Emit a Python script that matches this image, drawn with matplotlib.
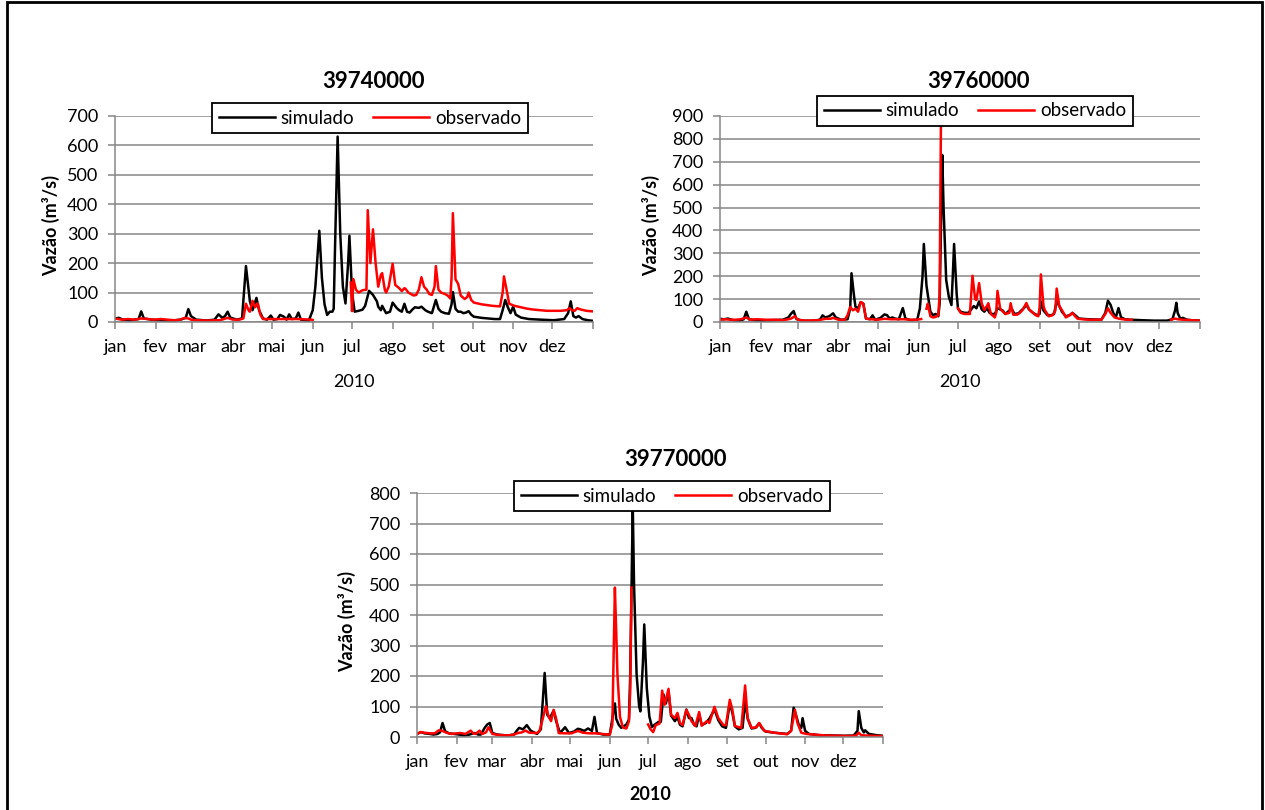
import numpy as np
import matplotlib
matplotlib.use("Agg")
import matplotlib.pyplot as plt
from matplotlib.patches import Rectangle
from matplotlib.ticker import MultipleLocator

plt.rcParams['font.family'] = ['Lato', 'DejaVu Sans']

nan = np.nan
meses = ['jan', 'fev', 'mar', 'abr', 'mai', 'jun', 'jul', 'ago', 'set', 'out', 'nov', 'dez', '']
inicio_mes = [0, 31, 59, 90, 120, 151, 181, 212, 243, 273, 304, 334, 365]

# ---- 39740000 ----
sim1_dia = [0, 3, 6, 12, 18, 20, 22, 28, 35, 45, 50, 54, 56, 58, 62, 70, 76, 79, 82, 84, 86, 88, 93, 97,
            100, 103, 105, 108, 110, 113, 116, 119, 121, 124, 126, 129, 131, 133, 135, 138, 140, 142, 148,
            151, 153, 156, 158, 160, 162, 164, 166, 167, 168, 170, 172, 174, 176, 178, 179, 181, 183, 186,
            189, 191, 194, 197, 200, 201, 203, 204, 207, 210, 212, 215, 217, 219, 221, 223, 225, 227, 229,
            232, 234, 237, 239, 242, 245, 247, 249, 252, 255, 257, 258, 260, 262, 264, 266, 268, 270, 272,
            274, 280, 290, 294, 296, 298, 300, 302, 304, 306, 310, 316, 325, 335, 343, 346, 348, 350, 352,
            354, 357, 361, 365]
sim1_q = [12, 14, 8, 6, 10, 36, 12, 8, 6, 5, 8, 14, 44, 20, 8, 5, 8, 26, 14, 20, 35, 15, 8, 12,
          190, 70, 40, 82, 40, 12, 8, 22, 8, 10, 24, 18, 8, 26, 10, 12, 32, 8, 5,
          40, 120, 310, 150, 60, 24, 35, 35, 45, 250, 630, 300, 120, 63, 200, 293, 100, 35, 38,
          42, 55, 106, 92, 70, 52, 40, 55, 30, 35, 66, 48, 40, 35, 62, 35, 32, 42, 50,
          48, 52, 40, 35, 30, 75, 45, 35, 30, 28, 60, 102, 45, 35, 35, 30, 32, 37, 25,
          18, 14, 10, 10, 40, 75, 50, 30, 52, 25, 15, 10, 8, 6, 10, 30, 70, 20, 15,
          20, 10, 6, 4]
obs1_dia = [0, 5, 10, 15, 20, 25, 30, 35, 40, 45, 50, 53, 56, 58, 62, 70, 80, 86, 90, 95, 98, 100, 102,
            103, 105, 107, 109, 111, 113, 120, 130, 140, 150, 151, 152,
            180, 181, 182, 184, 186, 189, 192, 193, 195, 197, 199, 201, 203, 204, 206, 207, 209, 212, 214,
            217, 219, 221, 222, 224, 226, 228, 230, 232, 234, 236, 238, 240, 242, 244, 245, 247, 249, 252,
            254, 256, 257, 258, 260, 262, 264, 267, 269, 270, 272, 274, 280, 288, 294, 296, 297, 299, 301,
            305, 310, 315, 320, 330, 340, 345, 347, 349, 351, 353, 356, 360, 365]
obs1_q = [12, 8, 10, 8, 12, 10, 8, 10, 8, 6, 8, 14, 12, 8, 6, 5, 6, 14, 8, 8, 12, 62, 40,
          35, 72, 50, 63, 25, 10, 10, 10, 10, 8, 7, nan,
          134, 37, 146, 110, 100, 108, 110, 380, 200, 315, 200, 120, 160, 166, 110, 100, 120, 198, 126,
          115, 105, 115, 112, 100, 95, 90, 92, 110, 152, 120, 110, 95, 92, 120, 190, 110, 100, 95,
          90, 80, 150, 370, 145, 130, 90, 78, 85, 100, 75, 66, 60, 55, 53, 100, 155, 110, 62,
          55, 50, 45, 42, 38, 38, 40, 47, 40, 38, 47, 42, 38, 36]

# ---- 39760000 ----
sim2_dia = [0, 3, 6, 10, 15, 18, 20, 22, 26, 32, 40, 48, 52, 54, 56, 58, 62, 70, 76, 78, 80, 83, 86, 88,
            92, 97, 99, 100, 102, 103, 105, 107, 109, 111, 114, 116, 118, 122, 125, 127, 129, 131, 133,
            136, 139, 141, 145, 150, 152, 154, 155, 157, 158, 160, 162, 164, 166, 167, 169, 170, 172, 174,
            176, 177, 178, 180, 181, 183, 186, 189, 191, 193, 195, 197, 199, 201, 203, 205, 207, 209, 211,
            213, 215, 217, 220, 222, 224, 227, 229, 231, 233, 235, 238, 241, 243, 244, 246, 249, 252, 254,
            256, 258, 260, 263, 266, 268, 270, 273, 280, 290, 293, 295, 297, 299, 301, 303, 305, 308, 312,
            320, 330, 340, 344, 346, 347, 348, 350, 352, 355, 360, 365]
sim2_q = [14, 12, 15, 8, 6, 12, 45, 12, 8, 6, 8, 10, 20, 36, 48, 14, 6, 5, 10, 29, 20, 25, 38, 20,
          10, 12, 60, 213, 110, 67, 60, 87, 80, 15, 12, 29, 10, 18, 33, 30, 15, 20, 15,
          12, 61, 15, 8, 10, 60, 200, 341, 160, 120, 45, 30, 35, 25, 80, 730, 500, 183, 110,
          74, 200, 341, 120, 58, 45, 40, 40, 55, 70, 60, 90, 55, 45, 60, 40, 35, 35, 60,
          55, 50, 35, 50, 55, 35, 38, 50, 60, 75, 55, 40, 30, 35, 90, 50, 30, 30, 35,
          90, 70, 45, 25, 30, 40, 30, 15, 12, 10, 40, 93, 75, 40, 20, 61, 20, 12, 10,
          8, 6, 6, 12, 50, 84, 40, 15, 18, 10, 7, 6]
obs2_dia = [0, 4, 8, 12, 16, 20, 23, 28, 35, 42, 48, 52, 54, 57, 59, 65, 75, 80, 84, 86, 90, 95, 97, 99,
            101, 103, 105, 107, 109, 111, 115, 120, 125, 130, 135, 140, 145, 150, 153, 155,
            157, 158, 160, 162, 164, 166, 167, 168, 169,
            181, 183, 186, 190, 192, 194, 195, 197, 199, 201, 203, 204, 206, 209, 210, 211, 213, 214, 217,
            220, 221, 223, 226, 228, 230, 233, 235, 237, 240, 242, 243, 244, 246, 247, 250, 253, 255, 256,
            258, 260, 263, 266, 268, 270, 272, 280, 290, 293, 295, 297, 300, 303, 306, 310, 313, 314,
            343, 346, 348, 352, 358, 365]
obs2_q = [10, 12, 10, 10, 12, 20, 10, 12, 10, 10, 8, 12, 15, 25, 10, 6, 8, 14, 14, 18, 10, 10, 30, 66,
          51, 58, 45, 87, 80, 15, 12, 10, 14, 12, 12, 12, 10, 10, 13, nan,
          58, 80, 25, 20, 22, 30, 120, 870, nan,
          60, 40, 35, 35, 202, 100, 96, 170, 82, 52, 70, 82, 35, 20, 40, 136, 60, 52, 35,
          40, 82, 32, 32, 40, 52, 83, 55, 45, 30, 25, 60, 208, 70, 52, 25, 30, 50, 146,
          70, 52, 20, 30, 40, 25, 14, 10, 10, 35, 60, 40, 20, 15, 12, 10, 10, nan,
          10, 15, 12, 10, 8, 6]

# ---- 39770000 ----
sim3_dia = [0, 3, 6, 10, 13, 16, 18, 20, 22, 25, 29, 33, 37, 41, 45, 48, 50, 53, 55, 57, 59, 63, 71,
            76, 78, 80, 83, 86, 89, 94, 97, 100, 102, 104, 107, 109, 112, 116, 119, 123, 126, 128, 131,
            134, 137, 139, 141, 146, 151, 153, 154, 155, 156, 158, 160, 162, 164, 166, 167, 169, 170,
            172, 174, 175, 177, 178, 180, 182, 184, 186, 189, 191, 193, 195, 197, 199, 202, 204, 206,
            208, 211, 213, 215, 217, 219, 221, 223, 226, 229, 231, 233, 236, 239, 242, 245, 247, 249,
            252, 255, 257, 259, 262, 265, 268, 270, 273, 280, 290, 293, 295, 297, 299, 301, 302, 304,
            307, 315, 325, 335, 342, 345, 346, 348, 350, 351, 354, 360, 365]
sim3_q = [10, 16, 12, 10, 8, 10, 15, 46, 19, 12, 10, 8, 5, 8, 13, 8, 8, 30, 41, 46, 13, 8, 5,
          8, 20, 30, 25, 39, 21, 10, 25, 210, 73, 62, 86, 52, 13, 32, 13, 18, 27, 25, 20,
          28, 20, 66, 13, 8, 8, 60, 90, 110, 60, 40, 30, 35, 41, 57, 200, 760, 500,
          205, 100, 84, 250, 369, 160, 67, 33, 40, 49, 50, 140, 110, 150, 70, 52, 65, 40,
          35, 90, 62, 62, 40, 35, 75, 40, 45, 60, 75, 90, 55, 35, 30, 110, 80, 35,
          25, 30, 120, 60, 28, 30, 45, 30, 18, 14, 10, 20, 96, 70, 40, 30, 62, 20,
          10, 6, 5, 4, 5, 20, 85, 30, 15, 22, 10, 6, 4]
obs3_dia = [0, 3, 6, 10, 14, 17, 20, 23, 27, 31, 34, 38, 42, 44, 46, 49, 51, 54, 56, 59, 65, 71, 76,
            79, 82, 85, 88, 94, 96, 98, 101, 103, 105, 107, 109, 111, 116, 121, 126, 130, 135, 140, 145,
            149, 151, 153, 155, 156, 157, 159, 161, 162, 164, 165, 166, 167, 168, 169,
            181, 183, 185, 187, 190, 192, 194, 197, 199, 202, 204, 206, 208, 211, 213, 215, 218, 221, 223,
            227, 229, 233, 236, 240, 242, 245, 247, 249, 254, 257, 259, 262, 266, 268, 272, 280, 290, 293,
            296, 298, 301, 305, 320, 339, 344, 346, 348, 355, 365]
obs3_q = [10, 16, 14, 12, 12, 22, 20, 14, 10, 12, 13, 10, 21, 12, 10, 21, 10, 15, 32, 10, 6, 5, 8,
          13, 15, 21, 14, 13, 20, 52, 101, 68, 52, 89, 60, 13, 12, 12, 20, 14, 12, 12, 10,
          8, 8, 41, 490, 350, 205, 66, 35, 30, 28, 39, 52, 150, 490, nan,
          41, 25, 16, 39, 44, 152, 106, 158, 73, 62, 79, 46, 39, 89, 73, 52, 36, 82, 37,
          52, 46, 99, 62, 39, 39, 122, 90, 36, 30, 169, 62, 30, 32, 46, 20, 14, 9, 20,
          89, 46, 14, 10, 5, 3, 5, 14, 6, 4, 3]

W, H = 1265, 810
fig = plt.figure(figsize=(W / 100, H / 100), dpi=100)

# moldura
fig.add_artist(Rectangle((6.5 / W, -0.01), (1262 - 6.5) / W, 1.01 - 1.5 / H,
                         transform=fig.transFigure, fill=False, edgecolor='black', linewidth=2))

grid_cor = '#868686'


def painel(px, sim_d, sim_v, obs_d, obs_v, ymax, titulo, leg, ylab_x, ylab_y, tit_xy, ano_xy, ano_bold):
    l, r, t, b = px
    ax = fig.add_axes([l / W, 1 - b / H, (r - l) / W, (b - t) / H])
    ax.plot(sim_d, sim_v, color='black', lw=1.8, label='simulado')
    ax.plot(obs_d, obs_v, color='#FF0000', lw=1.8, label='observado')
    ax.set_xlim(0, 365)
    ax.set_ylim(0, ymax)
    ax.yaxis.set_major_locator(MultipleLocator(100))
    ax.set_xticks(inicio_mes)
    ax.set_xticklabels(meses)
    ax.grid(axis='y', color=grid_cor, lw=1.1)
    ax.set_axisbelow(True)
    for s in ['top', 'right']:
        ax.spines[s].set_visible(False)
    for s in ['left', 'bottom']:
        ax.spines[s].set_color(grid_cor)
        ax.spines[s].set_linewidth(1.1)
    ax.tick_params(axis='x', length=5, width=1.1, color=grid_cor, pad=7, labelsize=13)
    ax.tick_params(axis='y', length=5, width=1.1, color=grid_cor, pad=7, labelsize=13)
    lg = ax.legend(loc='center', bbox_to_anchor=(leg[0] / W, 1 - leg[1] / H), bbox_transform=fig.transFigure,
                   ncol=2, fontsize=13.5, frameon=True, fancybox=False, handlelength=3.0,
                   columnspacing=1.0, handletextpad=0.3, borderpad=0.35, borderaxespad=0)
    lg.get_frame().set_edgecolor('black')
    lg.get_frame().set_linewidth(1.3)
    lg.get_frame().set_alpha(1)
    fig.text(tit_xy[0] / W, 1 - tit_xy[1] / H, titulo, ha='center', va='center', fontsize=16, fontweight='bold')
    fig.text(ylab_x / W, 1 - ylab_y / H, 'Vazão (m³/s)', ha='center', va='center', rotation=90,
             fontsize=13, fontweight='bold')
    fig.text(ano_xy[0] / W, 1 - ano_xy[1] / H, '2010', ha='center', va='center', fontsize=13,
             fontweight='bold' if ano_bold else 'normal')
    return ax


painel((115, 593, 116, 322), sim1_dia, sim1_q, obs1_dia, obs1_q, 700, '39740000',
       (370, 118), 51, 226, (373, 81), (354, 382), False)
painel((720, 1200, 116, 322), sim2_dia, sim2_q, obs2_dia, obs2_q, 900, '39760000',
       (975, 111), 651, 226, (978, 81), (960, 382), False)
painel((417, 883, 493, 737), sim3_dia, sim3_q, obs3_dia, obs3_q, 800, '39770000',
       (672, 496), 347, 622, (675, 459), (650, 795), True)

plt.savefig('out.png', dpi=100)
